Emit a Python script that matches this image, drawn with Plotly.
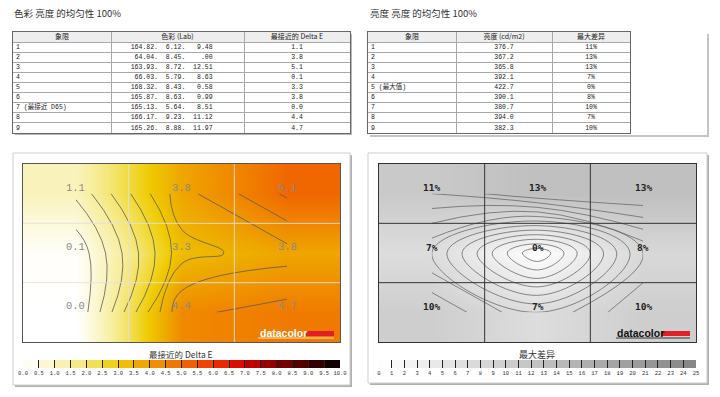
import plotly.graph_objects as go

W, H = 720, 397

# ---------------- data ----------------
quadrants_left = ["1", "2", "3", "4", "5", "6", "7 (最接近 D65)", "8", "9"]
lab_L = ["164.82.", "64.04.", "163.93.", "66.03.", "168.32.", "165.87.", "165.13.", "166.17.", "165.26."]
lab_a = ["6.12.", "8.45.", "8.72.", "5.79.", "8.43.", "8.63.", "5.64.", "9.23.", "8.88."]
lab_b = ["9.48", ".00", "12.51", "8.63", "0.58", "0.99", "8.51", "11.12", "11.97"]
delta_e = [1.1, 3.8, 5.1, 0.1, 3.3, 3.8, 0.0, 4.4, 4.7]
headers_left = ["象限", "色彩 (Lab)", "最接近的 Delta E"]

quadrants_right = ["1", "2", "3", "4", "5 (最大值)", "6", "7", "8", "9"]
luminance = [376.7, 367.2, 365.8, 392.1, 422.7, 390.1, 380.7, 394.0, 382.3]
max_diff = [11, 13, 13, 7, 0, 8, 10, 7, 10]
headers_right = ["象限", "亮度 (cd/m2)", "最大差异"]

grid_cols = [0, 1, 2]
grid_rows = [0, 1, 2]  # top -> bottom

de_ticks = ["0.0", "0.5", "1.0", "1.5", "2.0", "2.5", "3.0", "3.5", "4.0", "4.5", "5.0",
            "5.5", "6.0", "6.5", "7.0", "7.5", "8.0", "8.5", "9.0", "9.5", "10.0"]
diff_ticks = ["0", "1", "2", "3", "4", "5", "6", "7", "8", "9", "10", "11", "12", "13",
              "14", "15", "16", "17", "18", "19", "20", "21", "22", "23", "24", "25"]

# ---------------- styles ----------------
de_colors = ["#ffffff", "#fdfae2", "#faf4c2", "#f7ee9e", "#f4e572", "#f1d936", "#efc900",
             "#eeb400", "#ef9c00", "#f08400", "#f06c00", "#f05200", "#ef3800", "#e41a00",
             "#d20000", "#aa0000", "#840000", "#620000", "#420000", "#220000", "#000000"]
de_scale = [[i / (len(de_colors) - 1), c] for i, c in enumerate(de_colors)]
gray_scale = [[0, "#ffffff"], [1, "#858585"]]

MONO = "Liberation Mono, Noto Sans CJK SC, monospace"
CJK = "Noto Sans CJK SC, sans-serif"
left_colw = [98, 133, 106]
right_colw = [88, 96, 78]


def dx(px):
    return px / W


def dy(py):
    return 1 - py / H


def to_grid(vals):
    return [vals[0:3], vals[3:6], vals[6:9]]


fig = go.Figure()


# ---------------- tables (drawn on their own axes) ----------------
def add_table(xa, ya, colw, headers, columns, fonts):
    bounds = [0]
    for w in colw:
        bounds.append(bounds[-1] + w)
    rows = list(range(1, len(columns[0]) + 1))
    fig.add_trace(go.Scatter(x=[(a + b) / 2 for a, b in zip(bounds[:-1], bounds[1:])], y=[0] * len(headers),
                             text=headers, mode="text", textposition="middle center", hoverinfo="skip",
                             textfont=dict(family=CJK, size=7, color="#222"), xaxis=xa, yaxis=ya))
    fig.add_trace(go.Scatter(x=[bounds[0] + 3] * len(rows), y=rows, text=columns[0], mode="text",
                             textposition="middle right", hoverinfo="skip",
                             textfont=dict(family=fonts[0], size=6.5, color="#222"), xaxis=xa, yaxis=ya))
    for ci in (1, 2):
        fig.add_trace(go.Scatter(x=[(bounds[ci] + bounds[ci + 1]) / 2] * len(rows), y=rows, text=columns[ci],
                                 mode="text", textposition="middle center", hoverinfo="skip",
                                 textfont=dict(family=fonts[ci], size=6.5, color="#222"), xaxis=xa, yaxis=ya))
    return bounds


lab_text = [(f"{L:>7}{a:>7}{b:>7}" + "   ").replace(" ", "\u00a0") for L, a, b in zip(lab_L, lab_a, lab_b)]
lb = add_table("x5", "y5", left_colw, headers_left,
               [quadrants_left, lab_text, [f"{v:.1f}" for v in delta_e]], [MONO, MONO, MONO])
rb = add_table("x6", "y6", right_colw, headers_right,
               [quadrants_right, [f"{v:.1f}" for v in luminance], [f"{v}%" for v in max_diff]], [MONO, MONO, MONO])

# ---------------- maps ----------------
z_de = to_grid(delta_e)
z_diff = to_grid(max_diff)

fig.add_trace(go.Heatmap(z=z_de, x=grid_cols, y=grid_rows, zmin=0, zmax=10, colorscale=de_scale,
                         zsmooth="best", showscale=False, hoverinfo="skip", xaxis="x", yaxis="y"))
fig.add_trace(go.Contour(z=z_de, x=grid_cols, y=grid_rows, showscale=False, hoverinfo="skip",
                         contours=dict(coloring="lines", start=0.5, end=10, size=0.5),
                         colorscale=[[0, "#5a5a5a"], [1, "#5a5a5a"]],
                         line=dict(width=0.8, smoothing=1.3), xaxis="x", yaxis="y"))

fig.add_trace(go.Heatmap(z=z_diff, x=grid_cols, y=grid_rows, zmin=0, zmax=25, colorscale=gray_scale,
                         zsmooth="best", showscale=False, hoverinfo="skip", xaxis="x2", yaxis="y2"))
fig.add_trace(go.Contour(z=z_diff, x=grid_cols, y=grid_rows, showscale=False, hoverinfo="skip",
                         contours=dict(coloring="lines", start=1, end=25, size=1),
                         colorscale=[[0, "#6a6a6a"], [1, "#6a6a6a"]],
                         line=dict(width=0.8, smoothing=1.3), xaxis="x2", yaxis="y2"))

# ---------------- colour bars ----------------
de_levels = [float(t) for t in de_ticks]
de_mids = [(a + b) / 2 for a, b in zip(de_levels[:-1], de_levels[1:])]
fig.add_trace(go.Heatmap(z=[de_mids], x=de_levels, y=[0, 1], zmin=0, zmax=10, colorscale=de_scale,
                         showscale=False, hoverinfo="skip", xaxis="x3", yaxis="y3"))
diff_levels = [float(t) for t in diff_ticks]
diff_mids = [(a + b) / 2 for a, b in zip(diff_levels[:-1], diff_levels[1:])]
fig.add_trace(go.Heatmap(z=[diff_mids], x=diff_levels, y=[0, 1], zmin=0, zmax=25, colorscale=gray_scale,
                         showscale=False, hoverinfo="skip", xaxis="x4", yaxis="y4"))

# ---------------- annotations ----------------
ann = []
for i, v in enumerate(delta_e):
    ann.append(dict(x=grid_cols[i % 3], y=grid_rows[i // 3], xref="x", yref="y", text=f"{v:.1f}",
                    showarrow=False, yshift=6, font=dict(family=MONO, size=10.5, color="#8a8a8a")))
for i, v in enumerate(max_diff):
    ann.append(dict(x=grid_cols[i % 3], y=grid_rows[i // 3], xref="x2", yref="y2", text=f"<b>{v}%</b>",
                    showarrow=False, yshift=6, font=dict(family="DejaVu Sans Mono, monospace", size=9.5, color="#222")))

ann += [
    dict(x=dx(12), y=dy(13), xref="paper", yref="paper", xanchor="left", yanchor="middle", showarrow=False,
         text="色彩 亮度 的均匀性 100%", font=dict(family=CJK, size=9.5, color="#333")),
    dict(x=dx(368), y=dy(13), xref="paper", yref="paper", xanchor="left", yanchor="middle", showarrow=False,
         text="亮度 亮度 的均匀性 100%", font=dict(family=CJK, size=9.5, color="#333")),
    dict(x=dx(181), y=dy(354), xref="paper", yref="paper", xanchor="center", yanchor="middle", showarrow=False,
         text="最接近的 Delta E", font=dict(family=CJK, size=8.5, color="#333")),
    dict(x=dx(537), y=dy(354), xref="paper", yref="paper", xanchor="center", yanchor="middle", showarrow=False,
         text="最大差异", font=dict(family=CJK, size=9, color="#333")),
    dict(x=dx(258), y=dy(333), xref="paper", yref="paper", xanchor="left", yanchor="middle", showarrow=False,
         text="<b>datacolor</b>", font=dict(family="Liberation Sans, Arial", size=10.5, color="white")),
    dict(x=dx(615), y=dy(333), xref="paper", yref="paper", xanchor="left", yanchor="middle", showarrow=False,
         text="<b>datacolor</b>", font=dict(family="Liberation Sans, Arial", size=10.5, color="#111")),
]


# ---------------- decorative shapes ----------------
def rect(x0, y0, x1, y1, fill=None, line=None, width=1, layer="below"):
    return dict(type="rect", xref="paper", yref="paper", x0=dx(x0), x1=dx(x1), y0=dy(y1), y1=dy(y0),
                fillcolor=fill or "rgba(0,0,0,0)", line=dict(color=line or "rgba(0,0,0,0)", width=width),
                layer=layer)


shapes = [
    rect(15, 34, 352, 135, fill="#b8b8b8"),
    rect(13, 32, 350, 133, fill="white"),
    rect(370, 34, 709, 137, fill="#c4c4c4"),
    rect(368, 32, 707, 135, fill="white"),
    rect(15, 155, 352, 387, fill="#b0b0b0"),
    rect(13, 153, 350, 385, fill="white", line="#cfcfcf"),
    rect(370, 155, 709, 385, fill="#b0b0b0"),
    rect(368, 153, 707, 383, fill="white", line="#cfcfcf"),
    rect(306, 331, 334, 336, fill="#e31e24", layer="above"),
    rect(661, 331, 690, 336, fill="#e31e24", layer="above"),
    dict(type="line", xref="paper", yref="paper", x0=dx(258), x1=dx(334), y0=dy(338), y1=dy(338),
         line=dict(color="rgba(255,255,255,0.8)", width=1), layer="above"),
    dict(type="line", xref="paper", yref="paper", x0=dx(616), x1=dx(690), y0=dy(338), y1=dy(338),
         line=dict(color="#333", width=1), layer="above"),
    dict(type="rect", xref="x5 domain", yref="y5", x0=0, x1=1, y0=-0.5, y1=0.5, fillcolor="#eeeeee",
         line=dict(width=0), layer="below"),
    dict(type="rect", xref="x6 domain", yref="y6", x0=0, x1=1, y0=-0.5, y1=0.5, fillcolor="#eeeeee",
         line=dict(width=0), layer="below"),
]
for xr, yr, col in (("x", "y domain", "rgba(225,225,225,0.9)"), ("x2", "y2 domain", "#333")):
    for b in (0.5, 1.5):
        shapes.append(dict(type="line", xref=xr, yref=yr, x0=b, x1=b, y0=0, y1=1,
                           line=dict(color=col, width=1), layer="above"))
for xr, yr, col in (("x domain", "y", "rgba(225,225,225,0.9)"), ("x2 domain", "y2", "#333")):
    for b in (0.5, 1.5):
        shapes.append(dict(type="line", xref=xr, yref=yr, x0=0, x1=1, y0=b, y1=b,
                           line=dict(color=col, width=1), layer="above"))

map_ax = dict(showgrid=False, zeroline=False, showticklabels=False, ticks="", showline=True, mirror=True,
              linewidth=1)
cb_ax_y = dict(showgrid=False, zeroline=False, showticklabels=False, ticks="", range=[0, 1], fixedrange=True)
cb_ax_x = dict(showgrid=False, zeroline=False, ticks="inside", ticklen=8, tickwidth=1, tickcolor="#222",
               showline=False, tickangle=0, layer="above traces",
               tickfont=dict(family=MONO, size=5.5, color="#333"))
tab_y = dict(range=[9.5, -0.5], tickvals=[k + 0.5 for k in range(9)], showgrid=True, gridcolor="#a8a8a8",
             gridwidth=1, showticklabels=False, ticks="", zeroline=False, showline=True, mirror=True,
             linecolor="#666", linewidth=1)


def tab_x(bounds):
    return dict(range=[bounds[0], bounds[-1]], tickvals=bounds[1:-1], showgrid=True, gridcolor="#a8a8a8",
                gridwidth=1, showticklabels=False, ticks="", zeroline=False, showline=True, mirror=True,
                linecolor="#666", linewidth=1)


fig.update_layout(
    width=W, height=H, margin=dict(l=0, r=0, t=0, b=0, autoexpand=False),
    paper_bgcolor="white", plot_bgcolor="white", showlegend=False,
    xaxis=dict(domain=[dx(23), dx(340)], range=[-0.5, 2.5], linecolor="#555", anchor="y", **map_ax),
    yaxis=dict(domain=[dy(342), dy(164)], range=[2.5, -0.5], linecolor="#555", anchor="x", **map_ax),
    xaxis2=dict(domain=[dx(379), dx(696)], range=[-0.5, 2.5], linecolor="#333", anchor="y2", **map_ax),
    yaxis2=dict(domain=[dy(342), dy(164)], range=[2.5, -0.5], linecolor="#333", anchor="x2", **map_ax),
    xaxis3=dict(domain=[dx(23), dx(340)], range=[0, 10], tickvals=de_levels, ticktext=de_ticks, anchor="y3",
                **cb_ax_x),
    yaxis3=dict(domain=[dy(368), dy(360)], anchor="x3", **cb_ax_y),
    xaxis4=dict(domain=[dx(379), dx(696)], range=[0, 25], tickvals=diff_levels, ticktext=diff_ticks,
                anchor="y4", **cb_ax_x),
    yaxis4=dict(domain=[dy(368), dy(360)], anchor="x4", **cb_ax_y),
    xaxis5=dict(domain=[dx(13), dx(350)], anchor="y5", **tab_x(lb)),
    yaxis5=dict(domain=[dy(133), dy(32)], anchor="x5", **tab_y),
    xaxis6=dict(domain=[dx(368), dx(630)], anchor="y6", **tab_x(rb)),
    yaxis6=dict(domain=[dy(133), dy(32)], anchor="x6", **tab_y),
    annotations=ann, shapes=shapes,
)

fig.write_html("out.html", config={"displayModeBar": False},
               post_script="document.body.style.margin='0';document.body.style.overflow='hidden';")
